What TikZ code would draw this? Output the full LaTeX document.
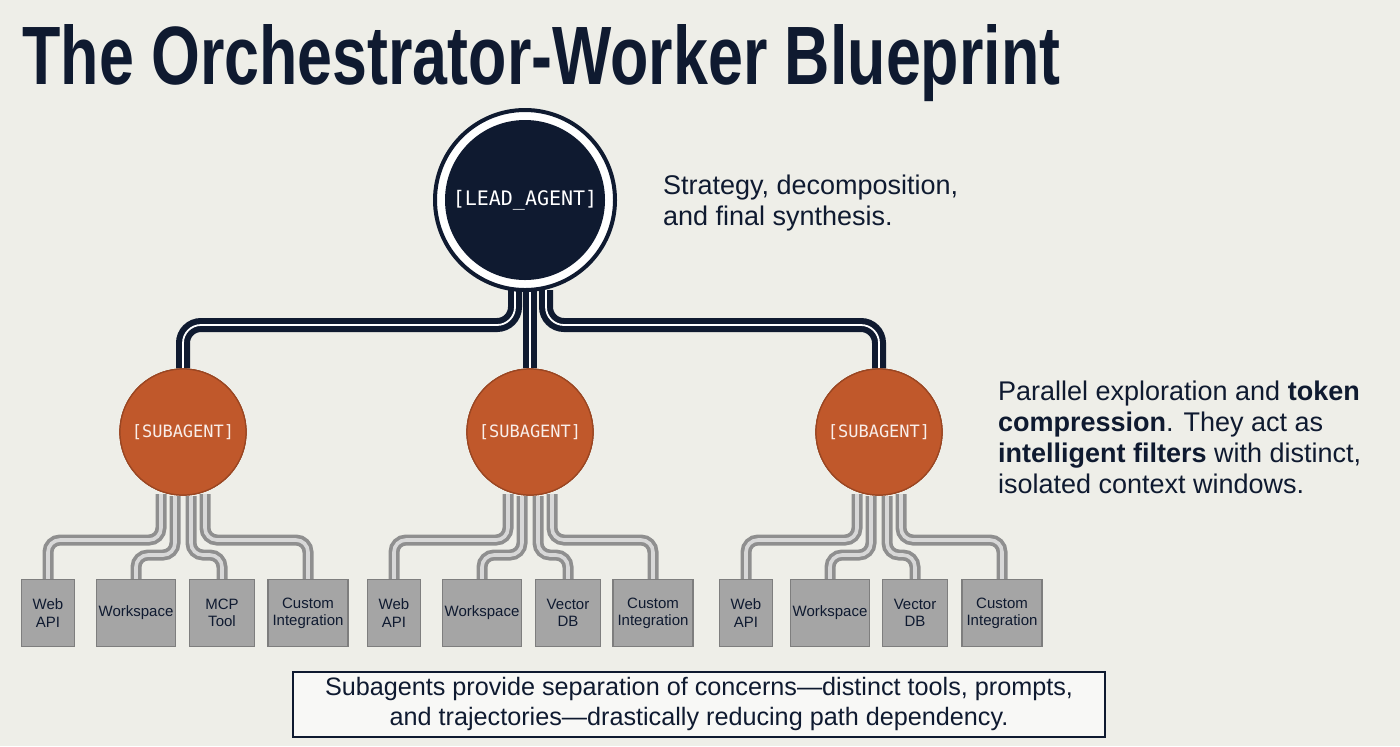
\documentclass[tikz,border=0pt]{standalone}
\usepackage{fontspec}
\setmainfont{Liberation Sans}
\setmonofont{DejaVu Sans Mono}
\definecolor{bg}{HTML}{EEEEE8}
\definecolor{navy}{HTML}{0F1A30}
\definecolor{orng}{HTML}{C0582B}
\definecolor{boxg}{HTML}{A5A5A5}
\definecolor{boxd}{HTML}{7E7E7E}
\definecolor{lineg}{HTML}{A8A8A8}
\begin{document}
\begin{tikzpicture}[x=0.5pt,y=-0.5pt,
  navyline/.style={draw=navy,line width=7pt,rounded corners=9pt},
  navyinner/.style={draw=white,line width=0.9pt,rounded corners=9pt},
  grayline/.style={draw=lineg!85!black,line width=5.5pt,rounded corners=6pt},
  grayinner/.style={draw=lineg!45!white,line width=1.8pt,rounded corners=6pt},
  subag/.style={circle,fill=orng,draw=orng!80!black,line width=0.6pt,minimum size=63pt,inner sep=0pt,font=\ttfamily\fontsize{8.5}{10}\selectfont,text=white!90!orng},
  tool/.style={rectangle,fill=boxg,draw=boxd,line width=0.6pt,minimum height=33.5pt,inner sep=0pt,align=center,font=\fontsize{7.5}{8.6}\selectfont,text=navy},
  side/.style={anchor=north west,align=left,font=\fontsize{13.5}{15.5}\selectfont,text=navy}]
\fill[bg] (0,0) rectangle (1400,746);
\useasboundingbox (0,0) rectangle (1400,746);
\node[anchor=north west,inner sep=0pt,text=navy] (title) at (22,24) {\resizebox{519pt}{30pt}{\fontsize{34}{40}\selectfont\bfseries The Orchestrator-Worker Blueprint}};

\coordinate (lb) at (515,290); \coordinate (cb) at (530,290); \coordinate (rb) at (546,290);
\node[subag] (s1) at (183,432) {[SUBAGENT]};
\node[subag] (s2) at (530,432) {[SUBAGENT]};
\node[subag] (s3) at (879,432) {[SUBAGENT]};
\foreach \st in {navyline,navyinner}{
  \draw[\st] (lb) -- (515,325) -- (183,325) -- (s1.north);
  \draw[\st] (cb) -- (s2.north);
  \draw[\st] (rb) -- (546,325) -- (879,325) -- (s3.north);
}
\node[subag] at (s1) {[SUBAGENT]};
\node[subag] at (s2) {[SUBAGENT]};
\node[subag] at (s3) {[SUBAGENT]};

\node[circle,fill=white,draw=navy,line width=2pt,minimum size=90pt,inner sep=0pt] (leadring) at (525,200) {};
\node[circle,fill=navy,minimum size=80pt,inner sep=0pt,font=\ttfamily\fontsize{10}{12}\selectfont,text=white] (lead) at (525,200) {[LEAD\_AGENT]};

\foreach \g/\cx/\a/\b/\c/\d/\lc in {1/183/48/136/222/308/{MCP\\Tool},2/530/394/482/568/653/{Vector\\DB},3/879/746/830/915/1002/{Vector\\DB}}{
  \node[tool,minimum width=26.5pt] (w\g) at (\a,613) {Web\\API};
  \node[tool,minimum width=39.5pt] (k\g) at (\b,613) {Workspace};
  \node[tool,minimum width=32.5pt] (m\g) at (\c,613) {\lc};
  \node[tool,minimum width=40pt] (c\g) at (\d,613) {Custom\\Integration};
  \foreach \st in {grayline,grayinner}{
    \draw[\st] (\cx-22,494) -- (\cx-22,540) -- (\a,540) -- (w\g.north);
    \draw[\st] (\cx-8,496) -- (\cx-8,555) -- (\b,555) -- (k\g.north);
    \draw[\st] (\cx+8,496) -- (\cx+8,555) -- (\c,555) -- (m\g.north);
    \draw[\st] (\cx+22,494) -- (\cx+22,540) -- (\d,540) -- (c\g.north);
  }
}
\foreach \g/\cx in {1/183,2/530,3/879}{\node[subag] at (\cx,432) {[SUBAGENT]};}

\node[side] (t1) at (656,168) {Strategy, decomposition,\\and final synthesis.};
\node[side] (t2) at (991,374) {Parallel exploration and \textbf{token}\\\textbf{compression}. They act as\\\textbf{intelligent filters} with distinct,\\isolated context windows.};
\node[draw=navy,line width=1pt,fill=white!60!bg,minimum width=406pt,minimum height=32.5pt,align=center,inner sep=0pt,font=\fontsize{12.6}{15}\selectfont,text=navy] (note) at (699,704) {Subagents provide separation of concerns—distinct tools, prompts,\\and trajectories—drastically reducing path dependency.};
\end{tikzpicture}
\end{document}
